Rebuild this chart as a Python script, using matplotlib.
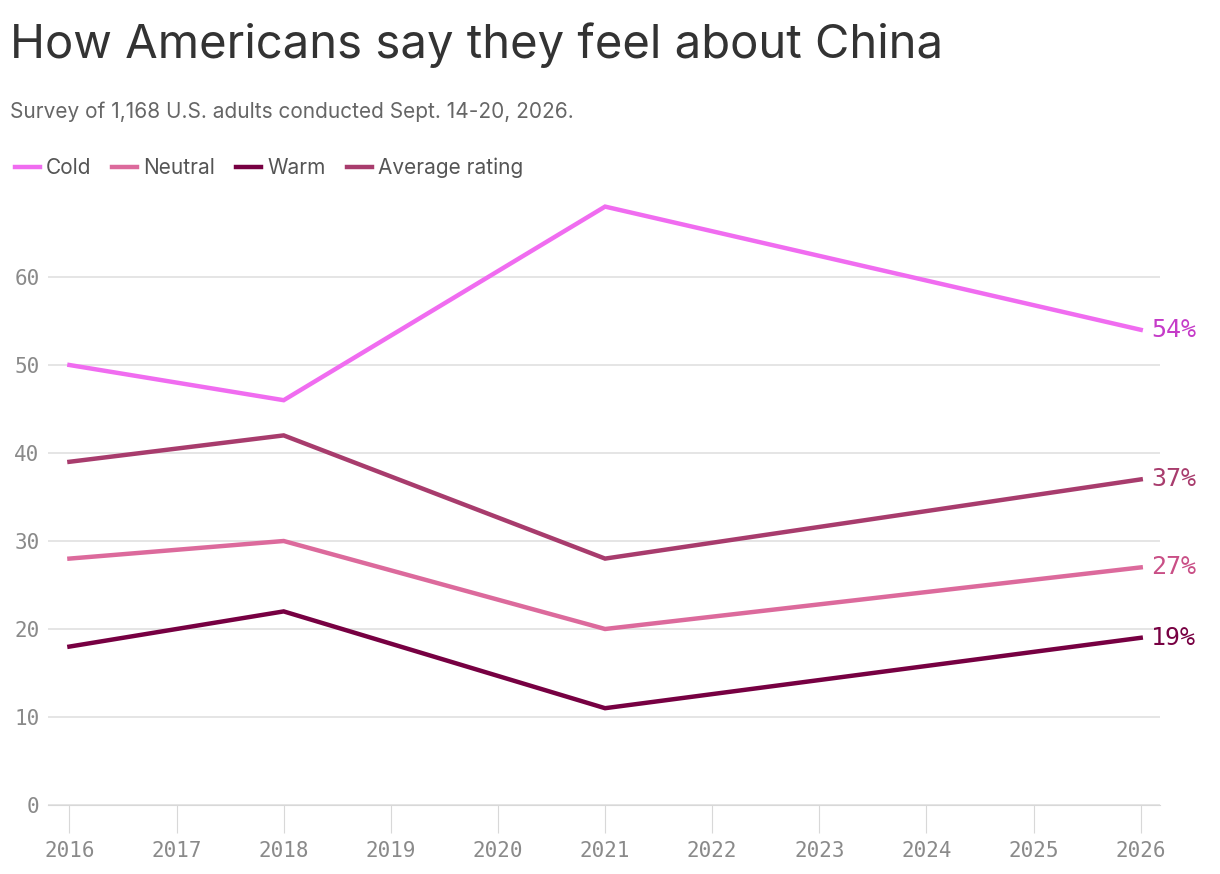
import matplotlib
matplotlib.use("Agg")
import matplotlib.pyplot as plt

# Data
years = [2016, 2018, 2021, 2026]
cold = [50, 46, 68, 54]
neutral = [28, 30, 20, 27]
warm = [18, 22, 11, 19]
average = [39, 42, 28, 37]

series = [
    ("Cold", cold, "#f06cf0", "#c53bc8"),
    ("Neutral", neutral, "#dc6a9c", "#c94f86"),
    ("Warm", warm, "#770042", "#770042"),
    ("Average rating", average, "#a83c6d", "#a83c6d"),
]

fig = plt.figure(figsize=(12.2, 8.74), dpi=100)
ax = fig.add_axes([48 / 1220, 69 / 874, 1112 / 1220, 616 / 874])

for name, vals, col, lab_col in series:
    ax.plot(years, vals, color=col, lw=3.2, label=name, solid_joinstyle="miter")
    ax.text(2026.1, vals[-1], f"{vals[-1]}%", color=lab_col, fontsize=18,
            family="DejaVu Sans Mono", va="center", ha="left", clip_on=False)

ax.set_xlim(2015.80, 2026.18)
ax.set_ylim(0, 70)
ax.set_yticks(range(0, 70, 10))
ax.set_xticks(range(2016, 2027))
ax.grid(axis="y", color="#e0e0e0", lw=1.2)
ax.set_axisbelow(True)
for s in ["top", "right", "left"]:
    ax.spines[s].set_visible(False)
ax.spines["bottom"].set_color("#d8d8d8")
ax.tick_params(axis="y", length=0, pad=6, labelsize=15, labelcolor="#8a8a8a")
ax.tick_params(axis="x", direction="out", length=20, color="#d8d8d8", pad=6,
               labelsize=15, labelcolor="#8a8a8a")
for lbl in ax.get_xticklabels() + ax.get_yticklabels():
    lbl.set_family("DejaVu Sans Mono")

fig.text(10 / 1220, 1 - 45 / 874, "How Americans say they feel about China",
         fontsize=34, color="#333333", family="Inter", va="center")
fig.text(10 / 1220, 1 - 112 / 874, "Survey of 1,168 U.S. adults conducted Sept. 14-20, 2026.",
         fontsize=15, color="#666666", family="Inter", va="center")

fig.legend(*ax.get_legend_handles_labels(),
           loc="center left", bbox_to_anchor=(0.0, 1 - 168 / 874), ncol=4,
           frameon=False, handlelength=1.2, handletextpad=0.3,
           columnspacing=1.0, labelcolor="#555555",
           prop={"family": "Inter", "size": 15}, borderaxespad=0.3)

fig.savefig("out.png", dpi=100)
